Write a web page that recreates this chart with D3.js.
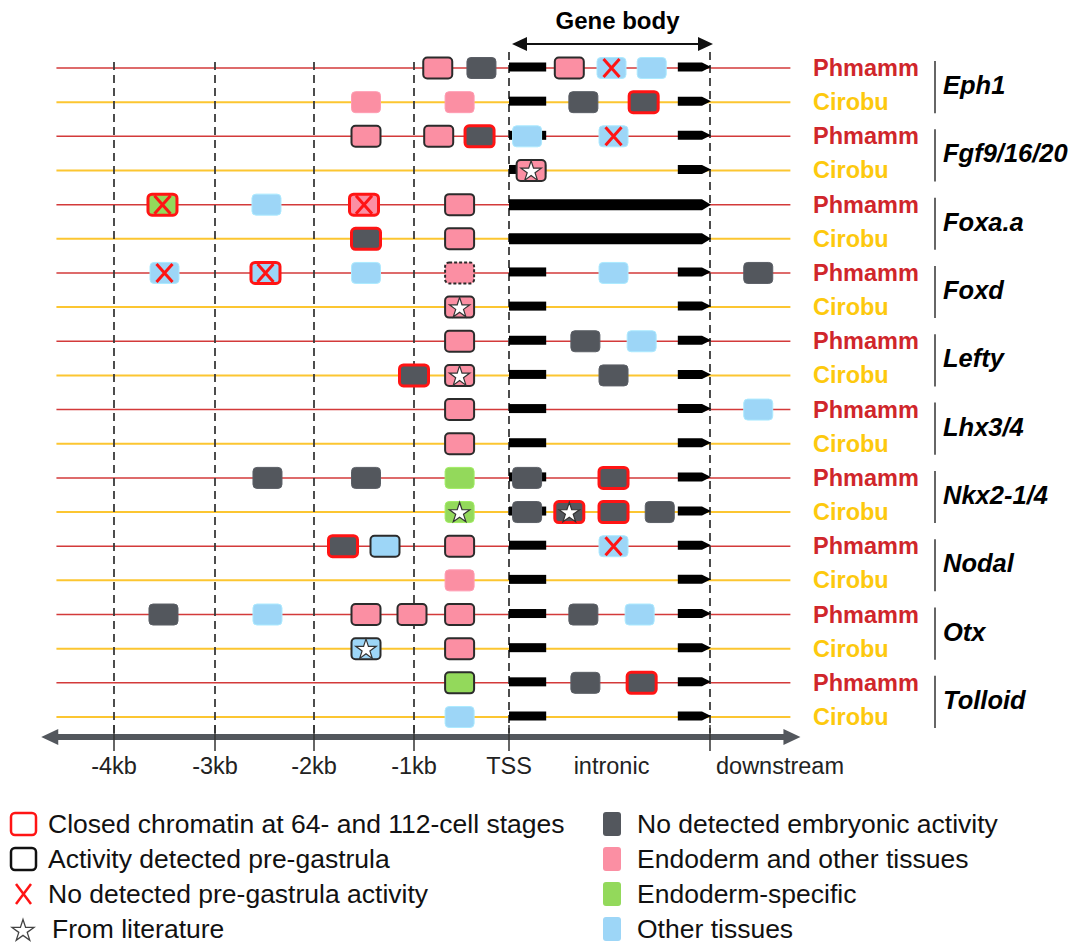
<!DOCTYPE html>
<html>
<head>
<meta charset="utf-8">
<script src="https://cdn.jsdelivr.net/npm/d3@7"></script>
<style>
  body { margin: 0; background: #fff; }
  svg { font-family: "Liberation Sans", Arial, Helvetica, sans-serif; }
</style>
</head>
<body>
<div id="chart"></div>
<script>
// genes and species, one row per gene x species
const genes = ["Eph1", "Fgf9/16/20", "Foxa.a", "Foxd", "Lefty", "Lhx3/4", "Nkx2-1/4", "Nodal", "Otx", "Tolloid"];
const species = ["Phmamm", "Cirobu"];
const singleExonGenes = ["Foxa.a"];

// axis ticks (kb upstream of TSS)
const tickValues = [-4, -3, -2, -1, 0];
const tickLabels = ["-4kb", "-3kb", "-2kb", "-1kb", "TSS"];
const regionLabels = ["intronic", "downstream"];

// exons in gene-body units (0 = TSS, 1 = end of gene)
const exonStart = [0, 0.84];
const exonEnd = [0.185, 1];

// [gene, species, position, tissue, outline, mark]
// position < 0 : kb upstream; 0..1 : inside gene body; > 1 : downstream
const elements = [
  ["Eph1", "Phmamm", -0.75, "endo", "black", ""],
  ["Eph1", "Phmamm", -0.29, "none", "", ""],
  ["Eph1", "Phmamm", 0.30, "endo", "black", ""],
  ["Eph1", "Phmamm", 0.51, "other", "", "x"],
  ["Eph1", "Phmamm", 0.71, "other", "", ""],
  ["Eph1", "Cirobu", -1.48, "endo", "", ""],
  ["Eph1", "Cirobu", -0.52, "endo", "", ""],
  ["Eph1", "Cirobu", 0.37, "none", "", ""],
  ["Eph1", "Cirobu", 0.67, "none", "red", ""],
  ["Fgf9/16/20", "Phmamm", -1.48, "endo", "black", ""],
  ["Fgf9/16/20", "Phmamm", -0.74, "endo", "black", ""],
  ["Fgf9/16/20", "Phmamm", -0.31, "none", "red", ""],
  ["Fgf9/16/20", "Phmamm", 0.09, "other", "", ""],
  ["Fgf9/16/20", "Phmamm", 0.52, "other", "", "x"],
  ["Fgf9/16/20", "Cirobu", 0.11, "endo", "black", "star"],
  ["Foxa.a", "Phmamm", -3.52, "endoSpec", "red", "x"],
  ["Foxa.a", "Phmamm", -2.48, "other", "", ""],
  ["Foxa.a", "Phmamm", -1.50, "endo", "red", "x"],
  ["Foxa.a", "Phmamm", -0.52, "endo", "black", ""],
  ["Foxa.a", "Cirobu", -1.48, "none", "red", ""],
  ["Foxa.a", "Cirobu", -0.52, "endo", "black", ""],
  ["Foxd", "Phmamm", -3.50, "other", "", "x"],
  ["Foxd", "Phmamm", -2.49, "other", "red", "x"],
  ["Foxd", "Phmamm", -1.48, "other", "", ""],
  ["Foxd", "Phmamm", -0.52, "endo", "dashed", ""],
  ["Foxd", "Phmamm", 0.52, "other", "", ""],
  ["Foxd", "Phmamm", 1.24, "none", "", ""],
  ["Foxd", "Cirobu", -0.52, "endo", "black", "star"],
  ["Lefty", "Phmamm", -0.52, "endo", "black", ""],
  ["Lefty", "Phmamm", 0.38, "none", "", ""],
  ["Lefty", "Phmamm", 0.66, "other", "", ""],
  ["Lefty", "Cirobu", -1.00, "none", "red", ""],
  ["Lefty", "Cirobu", -0.52, "endo", "black", "star"],
  ["Lefty", "Cirobu", 0.52, "none", "", ""],
  ["Lhx3/4", "Phmamm", -0.52, "endo", "black", ""],
  ["Lhx3/4", "Phmamm", 1.24, "other", "", ""],
  ["Lhx3/4", "Cirobu", -0.52, "endo", "black", ""],
  ["Nkx2-1/4", "Phmamm", -2.47, "none", "", ""],
  ["Nkx2-1/4", "Phmamm", -1.48, "none", "", ""],
  ["Nkx2-1/4", "Phmamm", -0.52, "endoSpec", "", ""],
  ["Nkx2-1/4", "Phmamm", 0.09, "none", "", ""],
  ["Nkx2-1/4", "Phmamm", 0.52, "none", "red", ""],
  ["Nkx2-1/4", "Cirobu", -0.52, "endoSpec", "", "star"],
  ["Nkx2-1/4", "Cirobu", 0.09, "none", "", ""],
  ["Nkx2-1/4", "Cirobu", 0.30, "none", "red", "star"],
  ["Nkx2-1/4", "Cirobu", 0.52, "none", "red", ""],
  ["Nkx2-1/4", "Cirobu", 0.75, "none", "", ""],
  ["Nodal", "Phmamm", -1.71, "none", "red", ""],
  ["Nodal", "Phmamm", -1.29, "other", "black", ""],
  ["Nodal", "Phmamm", -0.52, "endo", "black", ""],
  ["Nodal", "Phmamm", 0.52, "other", "", "x"],
  ["Nodal", "Cirobu", -0.52, "endo", "", ""],
  ["Otx", "Phmamm", -3.51, "none", "", ""],
  ["Otx", "Phmamm", -2.47, "other", "", ""],
  ["Otx", "Phmamm", -1.48, "endo", "black", ""],
  ["Otx", "Phmamm", -1.02, "endo", "black", ""],
  ["Otx", "Phmamm", -0.52, "endo", "black", ""],
  ["Otx", "Phmamm", 0.37, "none", "", ""],
  ["Otx", "Phmamm", 0.65, "other", "", ""],
  ["Otx", "Cirobu", -1.48, "other", "black", "star"],
  ["Otx", "Cirobu", -0.52, "endo", "black", ""],
  ["Tolloid", "Phmamm", -0.52, "endoSpec", "black", ""],
  ["Tolloid", "Phmamm", 0.38, "none", "", ""],
  ["Tolloid", "Phmamm", 0.66, "none", "red", ""],
  ["Tolloid", "Cirobu", -0.52, "other", "", ""]
];

// legend
const outlineLegend = ["Closed chromatin at 64- and 112-cell stages", "Activity detected pre-gastrula",
                       "No detected pre-gastrula activity", "From literature"];
const tissueKeys = ["none", "endo", "endoSpec", "other"];
const tissueLegend = ["No detected embryonic activity", "Endoderm and other tissues", "Endoderm-specific", "Other tissues"];

const W = 1082, H = 945;
const svg = d3.select("#chart").append("svg")
    .attr("width", W)
    .attr("height", H);

// x: piecewise, kb upstream then schematic gene body
const x = d3.scaleLinear()
    .domain([-4, -3, -2, -1, 0, 1])
    .range([114, 215, 314, 414, 509, 710]);

const rows = genes.flatMap(g => species.map(s => g + "|" + s));
const y = d3.scalePoint()
    .domain(rows)
    .range([68, 717]);

const tissueColor = d3.scaleOrdinal()
    .domain(tissueKeys)
    .range(["#53575d", "#fb8fa3", "#93d95b", "#9dd6f7"]);
const speciesColor = d3.scaleOrdinal()
    .domain(species)
    .range(["#d0262b", "#fdc90e"]);
const lineColor = d3.scaleOrdinal()
    .domain(species)
    .range(["#d33a3a", "#fcc631"]);

// Gene body header
svg.append("text")
   .attr("x", (x(0) + x(1)) / 2 + 8)
   .attr("y", 29)
   .attr("text-anchor", "middle")
   .style("font-size", "24px")
   .style("font-weight", "bold")
   .text("Gene body");

const hy = 44, hx0 = x(0) + 3, hx1 = x(1) + 3;
svg.append("line")
   .attr("x1", hx0 + 10).attr("x2", hx1 - 10)
   .attr("y1", hy).attr("y2", hy)
   .attr("stroke", "#111").attr("stroke-width", 2);
svg.append("path")
   .attr("d", `M${hx0},${hy} L${hx0 + 15},${hy - 7} L${hx0 + 15},${hy + 7} Z`)
   .attr("fill", "#111");
svg.append("path")
   .attr("d", `M${hx1},${hy} L${hx1 - 15},${hy - 7} L${hx1 - 15},${hy + 7} Z`)
   .attr("fill", "#111");

// row lines
svg.selectAll(".row-line")
   .data(rows)
   .enter()
   .append("line")
   .attr("class", "row-line")
   .attr("x1", x(-4.57))
   .attr("x2", x(1.4))
   .attr("y1", d => y(d))
   .attr("y2", d => y(d))
   .attr("stroke", d => lineColor(d.split("|")[1]))
   .attr("stroke-width", d => d.endsWith("Cirobu") ? 2 : 1.5);

// dashed position guides
svg.selectAll(".guide")
   .data(tickValues.concat([1]))
   .enter()
   .append("line")
   .attr("class", "guide")
   .attr("x1", d => x(d))
   .attr("x2", d => x(d))
   .attr("y1", d => d >= 0 ? 52 : 62)
   .attr("y2", 733)
   .attr("stroke", "#3a3a3a")
   .attr("stroke-width", 1.8)
   .attr("stroke-dasharray", "8,5");

// gene bodies (exons)
const exonH = 9;
function tipPath(x0, x1, yc, h) {
  return `M${x0},${yc - h / 2} L${x1 - 8},${yc - h / 2} L${x1 + 1},${yc} L${x1 - 8},${yc + h / 2} L${x0},${yc + h / 2} Z`;
}
rows.forEach(r => {
  const g = r.split("|")[0];
  const yc = y(r);
  if (singleExonGenes.includes(g)) {
    svg.append("path")
       .attr("d", tipPath(x(0), x(1), yc, 11))
       .attr("fill", "#000");
  } else {
    svg.append("rect")
       .attr("x", x(exonStart[0]))
       .attr("y", yc - exonH / 2 - 1)
       .attr("width", x(exonEnd[0]) - x(exonStart[0]))
       .attr("height", exonH)
       .attr("fill", "#000");
    svg.append("path")
       .attr("d", tipPath(x(exonStart[1]), x(exonEnd[1]), yc - 1, exonH))
       .attr("fill", "#000");
  }
});

// regulatory elements
const bw = 29, bh = 21;
const star = d3.symbol().type(d3.symbolStar).size(130);

const el = svg.selectAll(".element")
   .data(elements)
   .enter()
   .append("g")
   .attr("class", "element")
   .attr("transform", d => `translate(${x(d[2])},${y(d[0] + "|" + d[1])})`);

el.append("rect")
  .attr("x", -bw / 2)
  .attr("y", -bh / 2)
  .attr("width", bw)
  .attr("height", bh)
  .attr("rx", 4)
  .attr("fill", d => tissueColor(d[3]))
  .attr("stroke", d => d[4] === "red" ? "#ff1414"
                     : (d[4] === "black" || d[4] === "dashed") ? "#2b2b2b"
                     : d3.color(tissueColor(d[3])).brighter(0.25))
  .attr("stroke-width", d => d[4] === "red" ? 3 : d[4] ? 2 : 1)
  .attr("stroke-dasharray", d => d[4] === "dashed" ? "3,2" : null);

el.filter(d => d[5] === "x")
  .append("path")
  .attr("d", "M-8,-9 L8,9 M8,-9 L-8,9")
  .attr("stroke", "#ff1414")
  .attr("stroke-width", 3)
  .attr("fill", "none");

el.filter(d => d[5] === "star")
  .append("path")
  .attr("d", star)
  .attr("transform", "translate(0,1)")
  .attr("fill", "#fff")
  .attr("stroke", "#333")
  .attr("stroke-width", 1.2);

// species labels
svg.selectAll(".sp-label")
   .data(rows)
   .enter()
   .append("text")
   .attr("class", "sp-label")
   .attr("x", 813)
   .attr("y", d => y(d) + 8)
   .style("font-size", "23.5px")
   .style("font-weight", "bold")
   .attr("fill", d => speciesColor(d.split("|")[1]))
   .text(d => d.split("|")[1]);

// gene brackets and names
genes.forEach(g => {
  const y0 = y(g + "|" + species[0]), y1 = y(g + "|" + species[1]);
  svg.append("line")
     .attr("x1", 935).attr("x2", 935)
     .attr("y1", y0 - 7).attr("y2", y1 + 11)
     .attr("stroke", "#333").attr("stroke-width", 1.5);
  svg.append("text")
     .attr("x", 943)
     .attr("y", (y0 + y1) / 2 + 9)
     .style("font-size", "25.5px")
     .style("font-weight", "bold")
     .style("font-style", "italic")
     .text(g);
});

// bottom axis
const ay = 737;
const ax0 = x(-4.72), ax1 = x(1.45);
svg.append("line")
   .attr("x1", ax0 + 12).attr("x2", ax1 - 12)
   .attr("y1", ay).attr("y2", ay)
   .attr("stroke", "#53575d").attr("stroke-width", 6);
svg.append("path")
   .attr("d", `M${ax0},${ay} L${ax0 + 17},${ay - 8} L${ax0 + 17},${ay + 8} Z`)
   .attr("fill", "#53575d");
svg.append("path")
   .attr("d", `M${ax1},${ay} L${ax1 - 17},${ay - 8} L${ax1 - 17},${ay + 8} Z`)
   .attr("fill", "#53575d");

svg.selectAll(".tick")
   .data(tickValues.concat([1]))
   .enter()
   .append("line")
   .attr("class", "tick")
   .attr("x1", d => x(d)).attr("x2", d => x(d))
   .attr("y1", 725).attr("y2", 751)
   .attr("stroke", "#333").attr("stroke-width", 1.5);

svg.selectAll(".tick-label")
   .data(tickValues)
   .enter()
   .append("text")
   .attr("class", "tick-label")
   .attr("x", d => x(d))
   .attr("y", 774)
   .attr("text-anchor", "middle")
   .style("font-size", "23.5px")
   .attr("fill", "#222")
   .text((d, i) => tickLabels[i]);

svg.append("text")
   .attr("x", x(0.51))
   .attr("y", 774)
   .attr("text-anchor", "middle")
   .style("font-size", "23.5px")
   .attr("fill", "#222")
   .text(regionLabels[0]);
svg.append("text")
   .attr("x", x(1) + 6)
   .attr("y", 774)
   .style("font-size", "23.5px")
   .attr("fill", "#222")
   .text(regionLabels[1]);

// legend
const legY = d3.scalePoint().domain(d3.range(4)).range([824, 929]);

const legL = svg.append("g");
legL.append("rect")
    .attr("x", 11).attr("y", legY(0) - 11)
    .attr("width", 25).attr("height", 22).attr("rx", 4)
    .attr("fill", "none").attr("stroke", "#ff1414").attr("stroke-width", 2.5);
legL.append("rect")
    .attr("x", 11).attr("y", legY(1) - 11)
    .attr("width", 25).attr("height", 22).attr("rx", 4)
    .attr("fill", "none").attr("stroke", "#111").attr("stroke-width", 2.5);
legL.append("path")
    .attr("d", `M16,${legY(2) - 10} L31,${legY(2) + 10} M31,${legY(2) - 10} L16,${legY(2) + 10}`)
    .attr("stroke", "#ff1414").attr("stroke-width", 2.5).attr("fill", "none");
legL.append("path")
    .attr("d", d3.symbol().type(d3.symbolStar).size(150))
    .attr("transform", `translate(23,${legY(3) + 2})`)
    .attr("fill", "#fff").attr("stroke", "#444").attr("stroke-width", 1.3);

legL.selectAll("text")
    .data(outlineLegend)
    .enter()
    .append("text")
    .attr("x", (d, i) => i === 3 ? 52 : 48)
    .attr("y", (d, i) => legY(i) + 9)
    .style("font-size", "26.5px")
    .attr("fill", "#111")
    .text(d => d);

const legR = svg.append("g");
legR.selectAll("rect")
    .data(tissueKeys)
    .enter()
    .append("rect")
    .attr("x", 603)
    .attr("y", (d, i) => legY(i) - 12)
    .attr("width", 18).attr("height", 24).attr("rx", 3)
    .attr("fill", d => tissueColor(d));
legR.selectAll("text")
    .data(tissueLegend)
    .enter()
    .append("text")
    .attr("x", 637)
    .attr("y", (d, i) => legY(i) + 9)
    .style("font-size", "26.5px")
    .attr("fill", "#111")
    .text(d => d);
</script>
</body>
</html>
